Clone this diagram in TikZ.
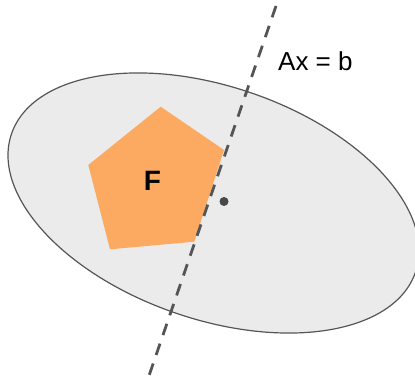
\documentclass[tikz,border=0pt]{standalone}
\usepackage{fontspec}
\setmainfont{Liberation Sans}
\usetikzlibrary{calc}

\definecolor{facecol}{HTML}{FCAA62}
\definecolor{inkcol}{HTML}{555555}

\begin{document}
\begin{tikzpicture}[x=1pt,y=1pt]
  \tikzset{region/.style={draw=inkcol,line width=1.2pt,fill=black!8}}
  \tikzset{face/.style={fill=facecol}}
  \tikzset{cut/.style={draw=inkcol,line width=2.8pt,dash pattern=on 12pt off 9pt}}
  \tikzset{lbl/.style={inner sep=0pt,font=\fontsize{26}{30}\selectfont}}
  \useasboundingbox (0,0) rectangle (415,385);

  % Ellipse (tilted)
  \def\cx{213.5}
  \def\cy{182}
  \draw[region,rotate around={-18.9:(\cx,\cy)}] (\cx,\cy) ellipse [x radius=213.5,y radius=116.4];

  % Feasible set F
  \coordinate (p1) at (160.7,278.3);
  \coordinate (p2) at (224,235);
  \coordinate (p3) at (194.3,143.3);
  \coordinate (p4) at (110,135.7);
  \coordinate (p5) at (88.3,220);
  \fill[face] (p1) -- (p2) -- (p3) -- (p4) -- (p5) -- cycle;
  \node[inner sep=0pt,anchor=base,font=\fontsize{28}{32}\selectfont\bfseries] (F) at (152.5,194) {F};

  % Hyperplane Ax = b
  \coordinate (top) at (276,379);
  \coordinate (bot) at (146.5,2);
  \draw[cut] (top) -- (bot);
  \node[lbl,anchor=base west] (hyp) at (278,314.3) {Ax = b};

  % Center point
  \fill[inkcol!85!black] (224,183.5) circle (4.5);
\end{tikzpicture}
\end{document}
